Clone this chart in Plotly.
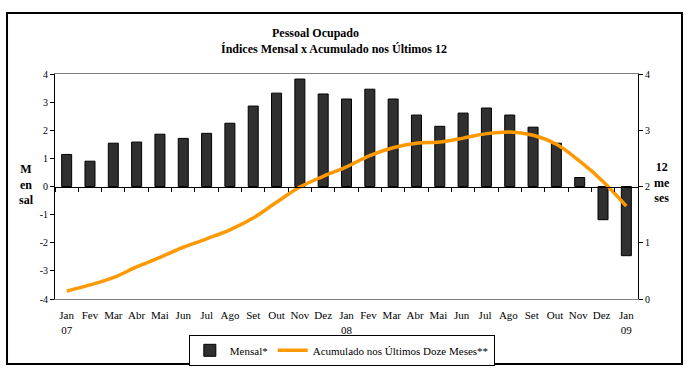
import plotly.graph_objects as go

months = ["Jan<br>07", "Fev", "Mar", "Abr", "Mai", "Jun", "Jul", "Ago", "Set", "Out", "Nov", "Dez",
          "Jan<br>08", "Fev ", "Mar ", "Abr ", "Mai ", "Jun ", "Jul ", "Ago ", "Set ", "Out ", "Nov ", "Dez ",
          "Jan<br>09"]
mensal = [1.14, 0.90, 1.54, 1.58, 1.86, 1.71, 1.89, 2.25, 2.86, 3.32, 3.82, 3.29,
          3.11, 3.46, 3.11, 2.54, 2.14, 2.61, 2.79, 2.54, 2.11, 1.54, 0.32, -1.18,
          -2.46]
acumulado = [0.14, 0.25, 0.38, 0.57, 0.74, 0.92, 1.07, 1.23, 1.44, 1.72, 1.99, 2.18,
             2.35, 2.55, 2.69, 2.77, 2.79, 2.86, 2.94, 2.97, 2.91, 2.75, 2.45, 2.09,
             1.65]
left_ticks = [-4, -3, -2, -1, 0, 1, 2, 3, 4]
left_tick_text = ["-4", "-3", "-2", "-1", "0", "1", "2", "3", "4"]
right_ticks = [0, 1, 2, 3, 4]

FONT = "Times New Roman, Liberation Serif, serif"

fig = go.Figure()
fig.add_trace(go.Bar(x=months, y=mensal, name="Mensal*", xaxis="x", yaxis="y",
                     marker=dict(color="#303030", line=dict(color="#000000", width=1))))
fig.add_trace(go.Scatter(x=months, y=acumulado, name="Acumulado nos Últimos Doze Meses**",
                         xaxis="x2", yaxis="y2", mode="lines",
                         line=dict(color="#FF9900", width=3.5, shape="spline")))

fig.update_layout(
    width=689, height=373,
    margin=dict(l=55, r=51, t=74, b=74, autoexpand=False),
    paper_bgcolor="white", plot_bgcolor="white",
    font=dict(family=FONT, size=11, color="black"),
    bargap=0.57,
    showlegend=True,
    legend=dict(orientation="h", x=0.492, y=-0.228, xanchor="center", yanchor="middle",
                bordercolor="black", borderwidth=1, font=dict(family=FONT, size=11),
                itemwidth=30, tracegroupgap=0),
    xaxis=dict(type="category", categoryarray=months, range=[-0.5, 24.5],
               showline=True, linecolor="#808080", linewidth=1, mirror=True,
               ticks="", showgrid=False, tickangle=0, ticklabelstandoff=6,
               tickfont=dict(family=FONT, size=11)),
    xaxis2=dict(type="category", categoryarray=months, range=[-0.5, 24.5],
                overlaying="x", anchor="free", position=0.5,
                showline=True, linecolor="black", linewidth=1,
                ticks="outside", ticklen=4, tickcolor="black", tickson="boundaries",
                showticklabels=False, showgrid=False),
    yaxis=dict(range=[-4, 4], tickvals=left_ticks, ticktext=left_tick_text,
               showgrid=False, zeroline=False,
               showline=True, linecolor="black", linewidth=1,
               ticks="outside", ticklen=4, tickcolor="black",
               tickfont=dict(family=FONT, size=10)),
    yaxis2=dict(range=[0, 4], tickvals=right_ticks, overlaying="y", side="right",
                anchor="x", showgrid=False,
                zeroline=False, showline=True, linecolor="black", linewidth=1,
                ticks="outside", ticklen=4, tickcolor="black",
                tickfont=dict(family=FONT, size=10)),
    shapes=[dict(type="rect", xref="paper", yref="paper",
                 x0=-0.0823, x1=1.0755, y0=-0.289, y1=1.271,
                 line=dict(color="black", width=2))],
    annotations=[
        dict(text="<b>Pessoal Ocupado</b>", xref="paper", yref="paper", x=0.446, y=1.182,
             showarrow=False, font=dict(family=FONT, size=12), xanchor="center", yanchor="middle"),
        dict(text="<b>Índices Mensal x Acumulado nos Últimos 12</b>", xref="paper", yref="paper",
             x=0.479, y=1.111, showarrow=False, font=dict(family=FONT, size=12),
             xanchor="center", yanchor="middle"),
        dict(text="<b>M<br>en<br>sal</b>", xref="paper", yref="paper", x=-0.0497, y=0.507,
             showarrow=False, font=dict(family=FONT, size=12), xanchor="center", yanchor="middle"),
        dict(text="<b>12<br>me<br>ses</b>", xref="paper", yref="paper", x=1.041, y=0.52,
             showarrow=False, font=dict(family=FONT, size=12), xanchor="center", yanchor="middle"),
    ],
)

fig.write_html("out.html", config={"displayModeBar": False},
               post_script="document.body.style.margin='0';")
